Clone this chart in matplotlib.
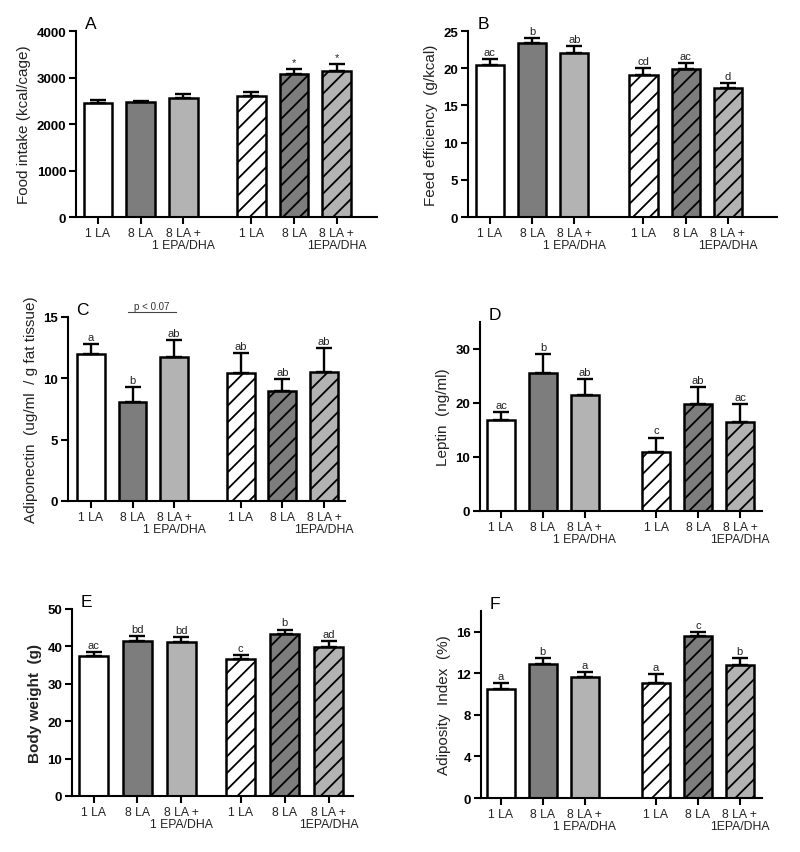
import matplotlib
matplotlib.use('Agg')
import matplotlib.pyplot as plt

plt.rcParams['font.family'] = ['Liberation Sans', 'DejaVu Sans']
plt.rcParams['hatch.linewidth'] = 1.3

groups = ['1 LA', '8 LA', '8 LA +\n1 EPA/DHA', '1 LA', '8 LA', '8 LA +\n1EPA/DHA']

# A: food intake (kcal/cage)
food_mean = [2450, 2470, 2570, 2605, 3075, 3140]
food_sem = [75, 35, 80, 80, 110, 150]
food_sig = ['', '', '', '', '*', '*']

# B: feed efficiency (g/kcal)
eff_mean = [20.5, 23.45, 22.05, 19.1, 19.9, 17.35]
eff_sem = [0.7, 0.65, 0.9, 0.9, 0.8, 0.65]
eff_sig = ['ac', 'b', 'ab', 'cd', 'ac', 'd']

# C: adiponectin
adipo_mean = [11.96, 8.04, 11.71, 10.43, 9.0, 10.54]
adipo_sem = [0.81, 1.25, 1.44, 1.64, 0.97, 1.96]
adipo_sig = ['a', 'b', 'ab', 'ab', 'ab', 'ab']

# D: leptin
lep_mean = [16.8, 25.6, 21.5, 11.0, 19.85, 16.55]
lep_sem = [1.56, 3.46, 2.93, 2.6, 3.15, 3.3]
lep_sig = ['ac', 'b', 'ab', 'c', 'ab', 'ac']

# E: body weight
bw_mean = [37.5, 41.5, 41.2, 36.5, 43.4, 39.9]
bw_sem = [1.0, 1.2, 1.3, 1.2, 1.1, 1.5]
bw_sig = ['ac', 'bd', 'bd', 'c', 'b', 'ad']

# F: adiposity index
ai_mean = [10.45, 12.9, 11.67, 11.1, 15.6, 12.85]
ai_sem = [0.65, 0.6, 0.48, 0.8, 0.4, 0.65]
ai_sig = ['a', 'b', 'a', 'a', 'c', 'b']

faces = ['white', '#7d7d7d', '#b3b3b3'] * 2
hatches = [None, None, None, '//', '//', '//']


def draw_panel(ax, means, sems, sig, ylim, yticks, ylabel, tag, gap, xlim,
               bold_label=False, sig_size=8):
    xs = [0, 1, 2, gap + 2, gap + 3, gap + 4]
    for x, m, s, fc, h in zip(xs, means, sems, faces, hatches):
        ax.bar(x, m, width=0.67, color=fc, edgecolor='black', linewidth=1.8,
               hatch=h, zorder=2)
        ax.errorbar(x, m, yerr=[[0], [s]], fmt='none', ecolor='black',
                    elinewidth=1.7, capsize=6, capthick=1.7, zorder=3)
    for x, m, s, t in zip(xs, means, sems, sig):
        if t:
            ax.annotate(t, (x, m + s), xytext=(0, 1.5), textcoords='offset points',
                        ha='center', va='bottom', fontsize=sig_size, color='#222222')
    ax.set_xlim(*xlim)
    ax.set_ylim(*ylim)
    ax.set_yticks(yticks)
    ax.set_xticks(xs)
    ax.set_xticklabels(groups, fontsize=8.8, linespacing=1.0, color='#222222')
    for lab in ax.get_yticklabels():
        lab.set_fontweight('bold')
        lab.set_fontsize(9.5)
    ax.tick_params(axis='both', direction='out', length=5, width=1.5, pad=2)
    for sp in ['top', 'right']:
        ax.spines[sp].set_visible(False)
    for sp in ['left', 'bottom']:
        ax.spines[sp].set_linewidth(1.5)
    ax.set_ylabel(ylabel, fontsize=11, fontweight='bold' if bold_label else 'normal',
                  color='#222222')
    ax.text(0.03, 1.0, tag, transform=ax.transAxes, fontsize=12.5, va='bottom',
            ha='left')


fig = plt.figure(figsize=(8, 8.53), dpi=100)

axA = fig.add_axes([0.095, 0.7444, 0.376, 0.218])
draw_panel(axA, food_mean, food_sem, food_sig, (0, 4000), [0, 1000, 2000, 3000, 4000],
           'Food intake (kcal/cage)', 'A', 1.6, (-0.515, 6.54))

axB = fig.add_axes([0.585, 0.7444, 0.386, 0.218])
draw_panel(axB, eff_mean, eff_sem, eff_sig, (0, 25), [0, 5, 10, 15, 20, 25],
           'Feed efficiency  (g/kcal)', 'B', 1.64, (-0.52, 6.80))

axC = fig.add_axes([0.085, 0.4115, 0.346, 0.2157])
draw_panel(axC, adipo_mean, adipo_sem, adipo_sig, (0, 15), [0, 5, 10, 15],
           'Adiponectin  (ug/ml  / g fat tissue)', 'C', 1.6, (-0.55, 6.1))
axC.plot([0.9, 2.05], [15.4, 15.4], color='#444444', linewidth=0.8, clip_on=False)
axC.text(1.47, 15.5, 'p < 0.07', ha='center', va='bottom', fontsize=7, color='#333333')

axD = fig.add_axes([0.6, 0.3998, 0.3525, 0.2216])
draw_panel(axD, lep_mean, lep_sem, lep_sig, (0, 35), [0, 10, 20, 30],
           'Leptin  (ng/ml)', 'D', 1.7, (-0.5, 6.22))

axE = fig.add_axes([0.09, 0.0657, 0.351, 0.2192])
draw_panel(axE, bw_mean, bw_sem, bw_sig, (0, 50), [0, 10, 20, 30, 40, 50],
           'Body weight  (g)', 'E', 1.35, (-0.49, 5.9), bold_label=True)

axF = fig.add_axes([0.601, 0.0633, 0.351, 0.2192])
draw_panel(axF, ai_mean, ai_sem, ai_sig, (0, 18), [0, 4, 8, 12, 16],
           'Adiposity  Index  (%)', 'F', 1.7, (-0.48, 6.22))

fig.savefig('out.png', dpi=100)
